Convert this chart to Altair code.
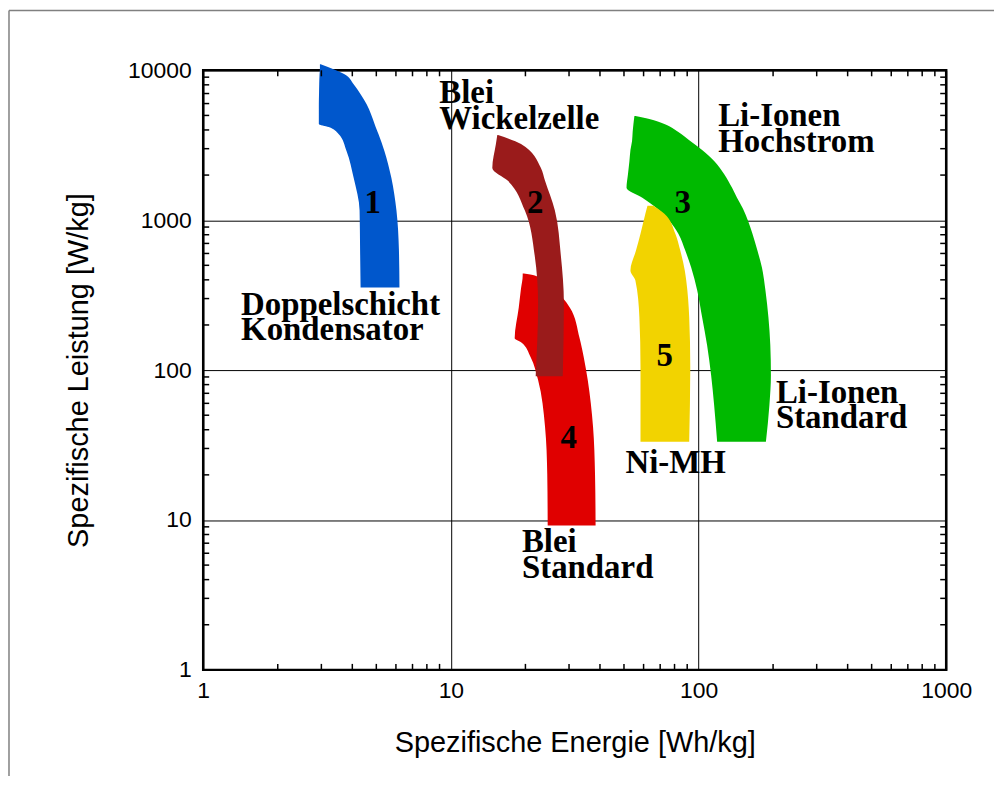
import altair as alt
import pandas as pd

# ---- band shapes: for each power level, left and right energy bound ----
P1_y = [10960, 10150, 9406, 8070, 6928, 5940, 4380, 4180, 3760, 2900, 1920, 1160, 630, 356]
P1_xl = [2.96, 2.96, 2.95, 2.94, 2.935, 2.93, 2.93, 3.21, 3.52, 3.79, 4.05, 4.28, 4.30, 4.32]
P1_xr = [2.98, 3.36, 3.72, 4.05, 4.32, 4.57, 4.92, 4.97, 5.10, 5.39, 5.75, 6.03, 6.17, 6.20]

P2_y = [3700, 3220, 2230, 1830, 1160, 581, 279, 91]
P2_xl = [15.4, 15.2, 14.7, 17.0, 19.9, 21.8, 22.5, 22.0]
P2_xr = [15.5, 19.2, 23.1, 24.0, 26.3, 27.8, 28.6, 28.3]

P3_y = [4948, 4725, 4377, 3873, 3375, 2940, 2485, 2037, 1644, 1411, 1192, 992, 813, 627, 483,
        340, 225, 146.6, 92.6, 58.5, 33.2]
P3_xl = [55.1, 54.9, 54.6, 54.2, 53.9, 53.1, 52.6, 51.9, 51.2, 59.3, 68.2, 76.2, 82.9, 88.4, 93.4,
         98.8, 103.4, 108.3, 112.4, 115.6, 118.9]
P3_xr = [55.6, 63.3, 72.8, 82.9, 92.6, 103.4, 115.6, 126.8, 136.6, 143.0, 151.2, 158.4, 165.1, 172.9, 180.3,
         186.3, 191.5, 194.9, 196.0, 193.3, 187.1]

P4_y = [441, 428, 351, 262, 163, 153.5, 122, 85.8, 41.8, 20.1, 9.19]
P4_xl = [19.5, 19.5, 19.2, 18.8, 18.1, 19.2, 21.0, 22.5, 24.0, 24.5, 24.6]
P4_xr = [19.7, 21.8, 25.8, 30.2, 33.1, 33.4, 34.4, 35.7, 37.5, 38.2, 38.4]

P5_y = [1250, 1105, 813, 627, 462, 396, 225, 105, 33.2]
P5_xl = [62.2, 61.0, 58.3, 55.9, 53.1, 55.6, 57.7, 58.3, 58.3]
P5_xr = [65.7, 72.8, 80.6, 84.4, 88.0, 89.2, 91.7, 92.6, 91.7]

# draw order and colours
SHAPES = [
    ("1", P1_y, P1_xl, P1_xr, "#0057CC"),
    ("3", P3_y, P3_xl, P3_xr, "#00B900"),
    ("4", P4_y, P4_xl, P4_xr, "#E00000"),
    ("2", P2_y, P2_xl, P2_xr, "#9A1B1B"),
    ("5", P5_y, P5_xl, P5_xr, "#F2D300"),
]

# number labels inside the bands
NUM_TEXT = ["1", "2", "3", "4", "5"]
NUM_X = [4.83, 21.9, 86.4, 29.9, 73.1]
NUM_Y = [1307, 1307, 1297, 35.3, 123.9]

# technology annotations (one row per line)
ANN_TEXT = ["Doppelschicht", "Kondensator", "Blei", "Wickelzelle", "Li-Ionen", "Hochstrom",
            "Li-Ionen", "Standard", "Ni-MH", "Blei", "Standard"]
ANN_X = [1.422, 1.422, 8.98, 8.98, 120.0, 120.0, 205.3, 205.3, 50.7, 19.36, 19.36]
ANN_Y = [270.3, 184.4, 7035, 4725, 4948, 3323, 70.35, 48.0, 24.1, 7.09, 4.76]

X_TICKS = [1, 10, 100, 1000]
Y_TICKS = [1, 10, 100, 1000, 10000]
X_MINOR = [m * d for d in (1, 10, 100) for m in range(2, 10)]
Y_MINOR = [m * d for d in (1, 10, 100, 1000) for m in range(2, 10)]

W, H = 746, 602

xscale = alt.Scale(type="log", domain=[1, 1000], nice=False)
yscale = alt.Scale(type="log", domain=[1, 10000], nice=False)

xaxis = alt.Axis(values=X_TICKS, format="d", grid=True, gridColor="black", gridWidth=1,
                 gridOpacity=1, ticks=False, domain=False, labelFlush=False, labelOverlap=False,
                 labelFont="Liberation Sans", labelFontSize=23, labelColor="black",
                 labelPadding=10, title="Spezifische Energie [Wh/kg]",
                 titleFont="Liberation Sans", titleFontSize=29, titleFontWeight="normal",
                 titleColor="black", titlePadding=26)
yaxis = alt.Axis(values=Y_TICKS, format="d", grid=True, gridColor="black", gridWidth=1,
                 gridOpacity=1, ticks=False, domain=False, labelFlush=False, labelOverlap=False,
                 labelFont="Liberation Sans", labelFontSize=23, labelColor="black",
                 labelPadding=12, title="Spezifische Leistung [W/kg]",
                 titleFont="Liberation Sans", titleFontSize=29, titleFontWeight="normal",
                 titleColor="black", titlePadding=34)


def X(field):
    return alt.X(field, type="quantitative", scale=xscale, axis=xaxis)


def Y(field):
    return alt.Y(field, type="quantitative", scale=yscale, axis=yaxis)


layers = []

# shapes as horizontal ranged areas (energy range for each power level)
for name, ys, xl, xr, col in SHAPES:
    df = pd.DataFrame({"pw": ys, "e1": xl, "e2": xr}).sort_values("pw")
    layers.append(
        alt.Chart(df).mark_area(orient="horizontal", interpolate="monotone", color=col)
        .encode(y=Y("pw"), x=X("e1"), x2=alt.X2("e2"))
    )

# minor ticks (inward)
xm = pd.DataFrame({"v": X_MINOR})
ym = pd.DataFrame({"v": Y_MINOR})
tick_style = dict(color="black", strokeWidth=1.5)
layers.append(alt.Chart(xm).mark_rule(**tick_style).encode(x=X("v"), y=alt.value(H), y2=alt.value(H - 6)))
layers.append(alt.Chart(xm).mark_rule(**tick_style).encode(x=X("v"), y=alt.value(0), y2=alt.value(6)))
layers.append(alt.Chart(ym).mark_rule(**tick_style).encode(y=Y("v"), x=alt.value(0), x2=alt.value(6)))
layers.append(alt.Chart(ym).mark_rule(**tick_style).encode(y=Y("v"), x=alt.value(W), x2=alt.value(W - 6)))

# number labels
nums = pd.DataFrame({"t": NUM_TEXT, "x": NUM_X, "y": NUM_Y})
layers.append(
    alt.Chart(nums).mark_text(font="Liberation Serif", fontWeight="bold", fontSize=33,
                              align="center", baseline="middle", color="black")
    .encode(x=X("x"), y=Y("y"), text="t:N")
)

# annotations
ann = pd.DataFrame({"t": ANN_TEXT, "x": ANN_X, "y": ANN_Y})
layers.append(
    alt.Chart(ann).mark_text(font="Liberation Serif", fontWeight="bold", fontSize=33,
                             align="left", baseline="middle", color="black")
    .encode(x=X("x"), y=Y("y"), text="t:N")
)

# outer grey frame (top and left edges of the picture border)
frame = pd.DataFrame({"a": [0]})
layers.append(alt.Chart(frame).mark_rule(color="#808080", strokeWidth=1.5)
              .encode(x=alt.value(-195), y=alt.value(-60), y2=alt.value(H + 120)))
layers.append(alt.Chart(frame).mark_rule(color="#808080", strokeWidth=1.5)
              .encode(y=alt.value(-60), x=alt.value(-195), x2=alt.value(W + 60)))

chart = alt.layer(*layers).properties(
    width=W, height=H,
    autosize=alt.AutoSizeParams(type="none"),
    padding={"left": 196, "top": 61, "right": 48, "bottom": 105},
    background="white",
).configure_view(stroke="black", strokeWidth=2.5)

chart.save("out.html", embed_options={"renderer": "svg", "actions": False})
